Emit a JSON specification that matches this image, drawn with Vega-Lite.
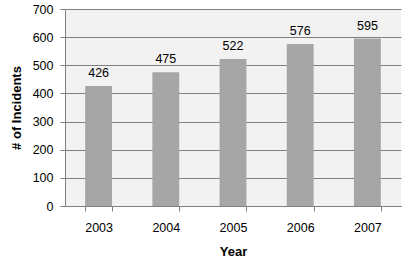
{
  "$schema": "https://vega.github.io/schema/vega-lite/v6.json",
  "width": 336,
  "height": 197,
  "autosize": "none",
  "padding": {"left": 65, "top": 9, "right": 11, "bottom": 58},
  "background": "white",
  "config": {
    "font": "Liberation Sans",
    "view": {"fill": "#f2f2f2", "stroke": null}
  },
  "data": {
    "values": [
      {"Year": "2003", "Incidents": 426},
      {"Year": "2004", "Incidents": 475},
      {"Year": "2005", "Incidents": 522},
      {"Year": "2006", "Incidents": 576},
      {"Year": "2007", "Incidents": 595}
    ]
  },
  "encoding": {
    "x": {
      "field": "Year",
      "type": "ordinal",
      "title": "Year",
      "scale": {"paddingInner": 0.6, "paddingOuter": 0.3},
      "axis": {
        "labelAngle": 0,
        "tickBand": "extent",
        "grid": false,
        "domainColor": "#808080",
        "tickColor": "#808080",
        "tickSize": 5,
        "labelPadding": 10,
        "labelFont": "Liberation Sans",
        "labelFontSize": 12.5,
        "labelColor": "#000000",
        "titleFont": "Liberation Sans",
        "titleFontSize": 13,
        "titleFontWeight": "bold",
        "titleColor": "#000000",
        "titlePadding": 12
      }
    },
    "y": {
      "field": "Incidents",
      "type": "quantitative",
      "title": "# of Incidents",
      "scale": {"domain": [0, 700], "nice": false},
      "axis": {
        "values": [0, 100, 200, 300, 400, 500, 600, 700],
        "grid": true,
        "gridColor": "#808080",
        "gridOpacity": 1,
        "domainColor": "#808080",
        "tickColor": "#808080",
        "tickSize": 5,
        "labelPadding": 7,
        "labelFont": "Liberation Sans",
        "labelFontSize": 12.5,
        "labelColor": "#000000",
        "titleFont": "Liberation Sans",
        "titleFontSize": 13,
        "titleFontWeight": "bold",
        "titleColor": "#000000",
        "titlePadding": 9
      }
    }
  },
  "layer": [
    {"mark": {"type": "bar", "color": "#a6a6a6"}},
    {
      "mark": {"type": "text", "baseline": "alphabetic", "dy": -9, "fontSize": 12.5, "font": "Liberation Sans", "color": "#000000"},
      "encoding": {"text": {"field": "Incidents", "type": "quantitative"}}
    }
  ]
}
